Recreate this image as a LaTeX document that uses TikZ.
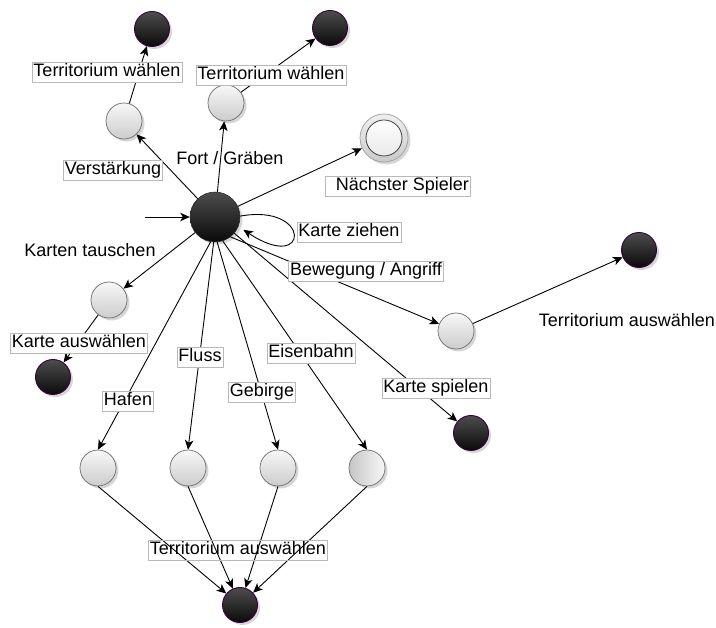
\documentclass[tikz,border=0pt]{standalone}
\usepackage{fontspec}
\setmainfont{Liberation Sans}
\usetikzlibrary{arrows.meta,shadows}

\tikzset{
  base/.style={circle, inner sep=0pt,
    drop shadow={shadow xshift=2.5pt, shadow yshift=-2.5pt, fill=black, opacity=0.16}},
  state/.style={base, minimum size=36pt, draw=gray!85!black, line width=0.7pt,
    top color=gray!6, bottom color=gray!40},
  final/.style={base, minimum size=35pt, draw=violet!45!black, line width=0.9pt,
    top color=black!70, bottom color=black!96},
  active/.style={final, minimum size=50pt, draw=black!85, line width=0.5pt},
  lbl/.style={font=\fontsize{18}{20}\selectfont, inner xsep=1.5pt, inner ysep=1.5pt,
    text height=13pt, text depth=4pt},
  boxed/.style={lbl, draw=gray!55, line width=0.5pt, fill=white},
  framed/.style={lbl, draw=gray!55, line width=0.5pt},
  edge/.style={draw=black, line width=0.9pt,
    -{Stealth[length=9.5pt,width=8.5pt,inset=2.5pt]}},
}

\begin{document}
\begin{tikzpicture}[x=1pt,y=-1pt]
\useasboundingbox (0,0) rectangle (716,628);

% states
\node[active] (S) at (215,217) {};
\coordinate (init) at (145,217);

\node[state] (G1) at (124,121) {};
\node[final] (F1) at (152,29) {};
\node[state] (G2) at (226,103) {};
\node[final] (F2) at (330,28) {};

\node[base, minimum size=48pt, draw=gray!75, line width=0.7pt,
      top color=gray!12, bottom color=gray!42] (end) at (384,138) {};
\node[circle, minimum size=36pt, inner sep=0pt, draw=black!75, line width=0.8pt,
      top color=white, bottom color=gray!18] (endin) at (end) {};

\node[state] (G3) at (109,300) {};
\node[final] (F3) at (53,377) {};

\node[state] (G4) at (456,331) {};
\node[final] (F4) at (639,250) {};

\node[final] (F5) at (471,433) {};

\node[state] (H1) at (98,468) {};
\node[state] (H2) at (188,468) {};
\node[state] (H3) at (278,468) {};
\node[state, left color=gray!45, right color=gray!6] (H4) at (367,468) {};
\node[final] (F6) at (240,605) {};

% transitions
\draw[edge] (init) -- (S);
\draw[edge] (S) -- (G1);
\draw[edge] (G1) -- (F1);
\draw[edge] (S) -- (G2);
\draw[edge] (G2) -- (F2);
\draw[edge] (S) -- (end);
\draw[edge, shorten >=6pt] (S.2) .. controls (312,203) and (310,274) .. (S.-22);
\draw[edge] (S) -- (G3);
\draw[edge] (G3) -- (F3);
\draw[edge] (S.-52) -- (G4);
\draw[edge] (G4) -- (F4);
\draw[edge] (S) -- (F5);
\draw[edge] (S.-100) -- (H1.north);
\draw[edge] (S.-93) -- (H2.north);
\draw[edge] (S.-85) -- (H3.north);
\draw[edge] (S.-72) -- (H4.north);
\draw[edge] (H1.south) -- (F6);
\draw[edge] (H2.south) -- (F6);
\draw[edge] (H3.south) -- (F6);
\draw[edge] (H4.south) -- (F6);

% transition labels
\node[boxed] (l1) at (107,72) {Territorium wählen};
\node[boxed] (l2) at (271,75) {Territorium wählen};
\node[boxed] (l3) at (113,170) {Verstärkung};
\node[lbl] (l4) at (230,160) {Fort / Gräben};
\node[boxed] (l5) at (398,186) {\hspace*{9pt}Nächster Spieler};
\node[boxed] (l6) at (349,232) {Karte ziehen};
\node[lbl] (l7) at (90,252) {Karten tauschen};
\node[boxed] (l8) at (79,343) {Karte auswählen};
\node[boxed] (l9) at (366,271) {Bewegung / Angriff};
\node[lbl] (l10) at (627,322) {Territorium auswählen};
\node[boxed] (l11) at (200,357) {Fluss};
\node[boxed] (l12) at (311,353) {Eisenbahn};
\node[boxed] (l13) at (262,392) {Gebirge};
\node[boxed] (l14) at (128,401) {Hafen};
\node[boxed] (l15) at (436,388) {Karte spielen};
\node[framed] (l16) at (238,550) {Territorium auswählen};
\end{tikzpicture}
\end{document}
